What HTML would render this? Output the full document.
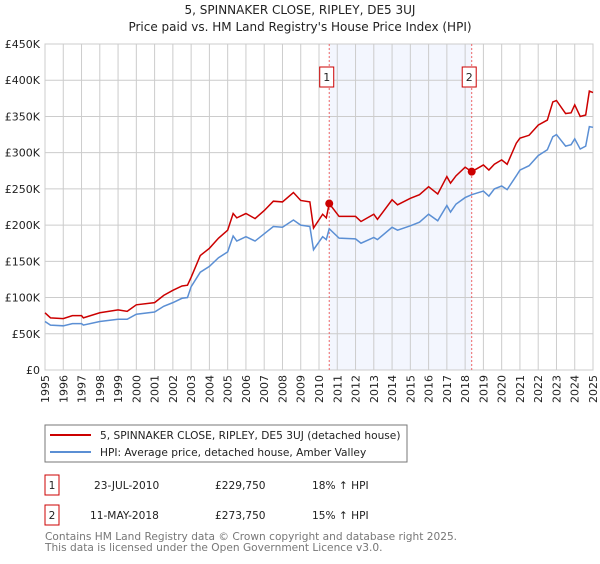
<!DOCTYPE html>
<html><head><meta charset="utf-8"><style>
body{margin:0;background:#fff;font-family:"DejaVu Sans","Liberation Sans",sans-serif;}
svg text{font-family:"DejaVu Sans","Liberation Sans",sans-serif;}
</style></head><body>
<svg id="chart" width="600" height="560" viewBox="0 0 600 560" xmlns="http://www.w3.org/2000/svg">
<text x="300" y="14" text-anchor="middle" font-size="12" fill="#222">5, SPINNAKER CLOSE, RIPLEY, DE5 3UJ</text>
<text x="300" y="31" text-anchor="middle" font-size="12" fill="#222">Price paid vs. HM Land Registry's House Price Index (HPI)</text>
<g id="grid"></g><g id="marks"></g><g id="axes"></g>
<rect x="45" y="425" width="362" height="37" fill="#fff" stroke="#777"/>
<line x1="50" y1="435" x2="91" y2="435" stroke="#cc0000" stroke-width="2"/>
<text x="100" y="439" font-size="10.6" fill="#222">5, SPINNAKER CLOSE, RIPLEY, DE5 3UJ (detached house)</text>
<line x1="50" y1="452" x2="91" y2="452" stroke="#5b8fd4" stroke-width="2"/>
<text x="100" y="456" font-size="10.6" fill="#222">HPI: Average price, detached house, Amber Valley</text>
<g>
<rect x="45" y="475" width="14" height="20" fill="#fff" stroke="#cc0000"/>
<text x="52" y="489" font-size="10.6" text-anchor="middle" fill="#222">1</text>
<text x="94" y="489" font-size="10.6" fill="#222">23-JUL-2010</text>
<text x="215" y="489" font-size="10.6" fill="#222">£229,750</text>
<text x="312" y="489" font-size="10.6" fill="#222">18% ↑ HPI</text></g>
<g>
<rect x="45" y="505" width="14" height="20" fill="#fff" stroke="#cc0000"/>
<text x="52" y="519" font-size="10.6" text-anchor="middle" fill="#222">2</text>
<text x="90" y="519" font-size="10.6" fill="#222">11-MAY-2018</text>
<text x="215" y="519" font-size="10.6" fill="#222">£273,750</text>
<text x="312" y="519" font-size="10.6" fill="#222">15% ↑ HPI</text></g>
<text x="45" y="540" font-size="10.6" fill="#777">Contains HM Land Registry data © Crown copyright and database right 2025.</text>
<text x="45" y="551" font-size="10.6" fill="#777">This data is licensed under the Open Government Licence v3.0.</text>
</svg>
<script>
const hpiYears=[1995,1995.3,1996,1996.5,1997,1997.1,1998,1999,1999.5,2000,2001,2001.5,2002,2002.5,2002.8,2003,2003.5,2004,2004.5,2005,2005.3,2005.5,2006,2006.5,2007,2007.5,2008,2008.6,2009,2009.5,2009.7,2010.2,2010.4,2010.56,2011.1,2012,2012.3,2013,2013.2,2014,2014.3,2015,2015.5,2016,2016.5,2017,2017.2,2017.5,2018,2018.36,2019,2019.3,2019.6,2020,2020.3,2020.8,2021,2021.5,2022,2022.5,2022.8,2023,2023.5,2023.8,2024,2024.3,2024.6,2024.8,2025];
const hpiValues=[67,62,61,64,64,62,67,70,70,77,80,88,93,99,100,115,135,143,155,163,185,178,184,178,188,198,197,207,200,198,166,184,180,195,182,181,175,183,180,197,193,199,204,215,206,227,218,229,238,242,247,240,250,254,249,268,276,282,296,304,322,325,309,311,319,305,309,336,335];
const priceValues=[79,72,71,75,75,72,79,83,81,90,93,103,110,116,117,128,158,168,182,193,216,210,216,209,220,233,232,245,234,232,196,215,210,229.75,212,212,205,215,208,235,228,237,242,253,243,267,258,268,280,273.75,283,276,284,290,284,313,320,324,338,345,370,372,354,355,366,350,352,385,383];
const yTicks=[0,50,100,150,200,250,300,350,400,450];
const yTickLabels=["£0","£50K","£100K","£150K","£200K","£250K","£300K","£350K","£400K","£450K"];
const xTicks=[1995,1996,1997,1998,1999,2000,2001,2002,2003,2004,2005,2006,2007,2008,2009,2010,2011,2012,2013,2014,2015,2016,2017,2018,2019,2020,2021,2022,2023,2024,2025];
const saleYears=[2010.56,2018.36];
const saleValues=[229.75,273.75];
const saleLabels=["1","2"];
const NS="http://www.w3.org/2000/svg";
const X0=45,X1=593,Y0=370,Y1=44;
const xs=y=>X0+(y-1995)/30*(X1-X0);
const ys=v=>Y0-v/450*(Y0-Y1);
function mk(tag,attrs,parent){const e=document.createElementNS(NS,tag);for(const k in attrs)e.setAttribute(k,attrs[k]);parent.appendChild(e);return e;}
const grid=document.getElementById('grid'),marks=document.getElementById('marks'),axes=document.getElementById('axes');
const shade=mk('rect',{x:xs(saleYears[0]),y:Y1,width:xs(saleYears[1])-xs(saleYears[0]),height:Y0-Y1,fill:'#f3f6fe'},grid);


yTicks.forEach((t,i)=>{
 const l=mk('line',{x1:X0,x2:X1,y1:ys(t),y2:ys(t),stroke:'#ccc'},grid);
 
 
 const tx=mk('text',{x:X0-5,y:ys(t)+4,'text-anchor':'end','font-size':11,fill:'#222'},axes);
 tx.textContent=yTickLabels[i];
 
 
});
xTicks.forEach(t=>{
 const l=mk('line',{x1:xs(t),x2:xs(t),y1:Y1,y2:Y0,stroke:'#ccc'},grid);
 
 
 const tx=mk('text',{x:0,y:0,'text-anchor':'end','font-size':11,fill:'#222',transform:`translate(${xs(t)+4},${Y0+5}) rotate(-90)`},axes);
 tx.textContent=t;
 
 
});
const frame=mk('rect',{x:X0,y:Y1,width:X1-X0,height:Y0-Y1,fill:'none',stroke:'#ccc'},grid);


saleYears.forEach((y,i)=>{
 const l=mk('line',{x1:xs(y),x2:xs(y),y1:Y1,y2:Y0,stroke:'#e66','stroke-dasharray':'2,2'},marks);
 
 
});
const hp=mk('polyline',{points:hpiYears.map((y,i)=>xs(y)+','+ys(hpiValues[i])).join(' '),fill:'none',stroke:'#5b8fd4','stroke-width':1.5},marks);


const pp=mk('polyline',{points:hpiYears.map((y,i)=>xs(y)+','+ys(priceValues[i])).join(' '),fill:'none',stroke:'#cc0000','stroke-width':1.5},marks);


saleYears.forEach((y,i)=>{
 const c=mk('circle',{cx:xs(y),cy:ys(saleValues[i]),r:4,fill:'#cc0000'},marks);
 
 
 const b=mk('rect',{x:xs(y)-9.5,y:67,width:14,height:20,fill:'#fff',stroke:'#cc0000'},marks);
 
 
 const t=mk('text',{x:xs(y)-2.5,y:81,'text-anchor':'middle','font-size':11,fill:'#222'},marks);
 t.textContent=saleLabels[i];
 
 
});
</script>
</body></html>
